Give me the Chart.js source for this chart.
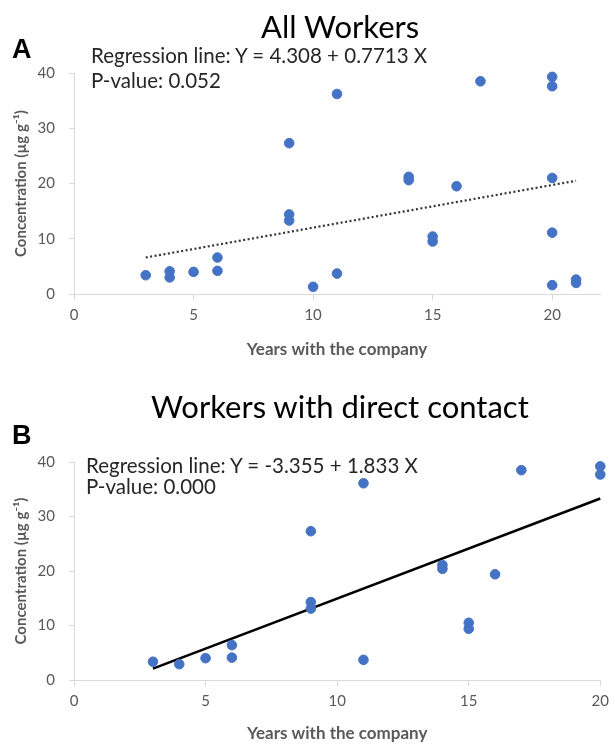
<!DOCTYPE html>
<html>
<head>
<meta charset="utf-8">
<script src="https://cdn.jsdelivr.net/npm/chart.js@4"></script>
<style>
body{margin:0;background:#fff}
#page{position:relative;width:615px;height:744px;overflow:hidden}
.box{position:absolute;left:0;width:615px;height:372px}
.lbl{position:absolute;white-space:nowrap;line-height:1;color:#000}
.panel{font-family:"Liberation Sans",Arial,sans-serif;font-weight:bold;font-size:27px}
.title{font-family:Lato,sans-serif;font-size:31px}
.note{font-family:Lato,sans-serif;font-size:20.5px;color:#262626}
</style>
</head>
<body>
<div id="page">
<div class="box" style="top:0"><canvas id="chartA"></canvas></div>
<div class="box" style="top:372px"><canvas id="chartB"></canvas></div>

<div class="lbl panel" style="left:12px;top:36px">A</div>
<div class="lbl title" style="left:261px;top:11px">All Workers</div>
<div class="lbl note" style="left:91px;top:45px">Regression line: Y = 4.308 + 0.7713 X</div>
<div class="lbl note" style="left:91px;top:70px">P-value: 0.052</div>

<div class="lbl panel" style="left:12px;top:422px">B</div>
<div class="lbl title" style="left:151px;top:391px">Workers with direct contact</div>
<div class="lbl note" style="left:86px;top:455px">Regression line: Y = -3.355 + 1.833 X</div>
<div class="lbl note" style="left:86px;top:476px">P-value: 0.000</div>
</div>

<script>
// all workers
const allYears = [3,4,4,5,6,6,9,9,9,10,11,11,14,14,15,15,16,17,20,20,20,20,20,21,21]
const allConc = [3.4,4.1,3.0,4.0,6.6,4.2,27.3,14.4,13.3,1.3,36.2,3.7,21.2,20.6,10.4,9.5,19.5,38.5,39.3,37.6,21.0,11.1,1.6,2.6,2.0]
const allTrendX = [3,21]
const allTrendY = [6.6,20.5]

// workers with direct contact
const dirYears = [3,4,5,6,6,9,9,9,11,11,14,14,15,15,16,17,20,20]
const dirConc = [3.35,2.9,4.0,6.4,4.1,27.3,14.3,13.1,36.1,3.7,21.1,20.4,10.5,9.4,19.4,38.5,39.2,37.7]
const dirTrendX = [3,20]
const dirTrendY = [2.1,33.3]

const yTicks = [0,10,20,30,40]
const xTicks = [0,5,10,15,20]

const blue = "#4472c4"
const axisGrey = "#d9d9d9"
const textGrey = "#595959"

Chart.defaults.font.family = "Lato, sans-serif"
Chart.defaults.color = textGrey

function pts(xs, ys){
return xs.map((x,i)=>({x:x, y:ys[i]}))
}

function makeChart(id, xs, ys, tx, ty, xMax, trendStyle, box){
new Chart(document.getElementById(id),{
type:"scatter",
data:{
datasets:[
{
data:pts(xs,ys),
backgroundColor:blue,
borderColor:blue,
pointRadius:4.8,
clip:false
},
Object.assign({
type:"line",
data:pts(tx,ty),
pointRadius:0,
fill:false,
clip:false
}, trendStyle)
]
},
options:{
responsive:true,
maintainAspectRatio:false,
animation:false,
events:[],
layout:{padding:{top:box.top, right:box.right, left:0, bottom:0}},
plugins:{legend:{display:false}, tooltip:{enabled:false}},
scales:{
x:{
type:"linear",
min:0,
max:xMax,
afterBuildTicks:s=>{s.ticks = xTicks.map(v=>({value:v}))},
ticks:{font:{size:15}, padding:6, color:textGrey},
grid:{drawOnChartArea:false, drawTicks:true, tickLength:6, color:axisGrey},
border:{color:axisGrey},
title:{display:true, text:"Years with the company", font:{size:17, weight:"bold"}, color:textGrey, padding:{top:0, bottom:box.xTitlePad}},
afterFit:s=>{s.height = box.xHeight}
},
y:{
min:0,
max:40,
afterBuildTicks:s=>{s.ticks = yTicks.map(v=>({value:v}))},
ticks:{font:{size:15}, padding:14, color:textGrey},
grid:{drawOnChartArea:false, drawTicks:true, tickLength:5, color:axisGrey},
border:{color:axisGrey},
title:{display:true, text:"Concentration (µg g⁻¹)", font:{size:15, weight:"bold"}, color:textGrey, padding:{top:12, bottom:0}},
afterFit:s=>{s.width = 74}
}
}
}
})
}

document.addEventListener("DOMContentLoaded", () => {
makeChart("chartA", allYears, allConc, allTrendX, allTrendY, 22,
{borderColor:"#333", borderWidth:2.2, borderDash:[2,2.5]},
{top:73, right:15, xHeight:78, xTitlePad:12})
makeChart("chartB", dirYears, dirConc, dirTrendX, dirTrendY, 20,
{borderColor:"#000", borderWidth:2.5},
{top:90, right:12, xHeight:64, xTitlePad:0})
})
</script>
</body>
</html>
